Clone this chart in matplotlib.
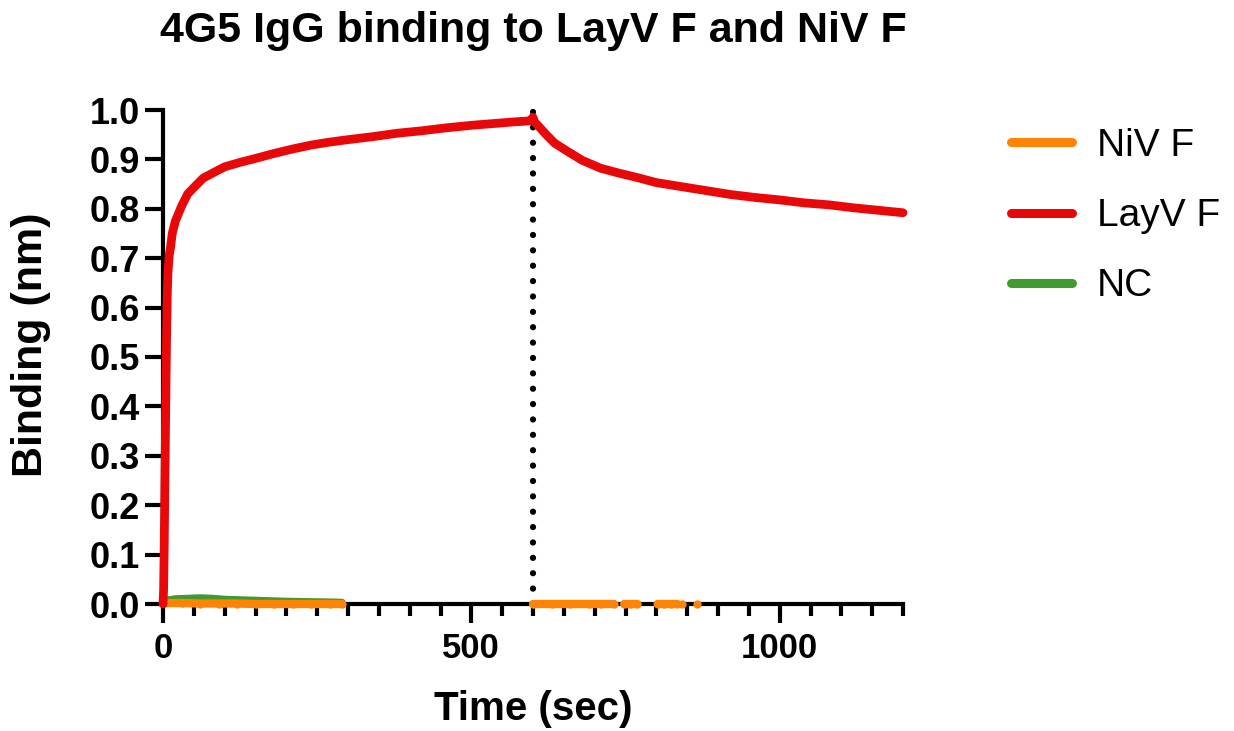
import numpy as np
import matplotlib
matplotlib.use('Agg')
import matplotlib.pyplot as plt
from matplotlib.lines import Line2D

plt.rcParams['font.family'] = ['Liberation Sans', 'DejaVu Sans']

# LayV F 曲线
layv_t = [0, 1, 2, 3, 4, 5, 6, 7, 8, 10, 12, 15, 20, 25, 30, 40, 50, 65, 80, 100,
          125, 150, 180, 210, 240, 270, 300, 340, 380, 420, 460, 500, 540, 570, 595,
          600, 603, 610, 620, 635, 655, 680, 710, 740, 770, 800, 840, 880, 920, 960,
          1000, 1040, 1080, 1120, 1160, 1200]
layv_y = [0.0, 0.03, 0.12, 0.24, 0.35, 0.46, 0.56, 0.63, 0.67, 0.705, 0.72, 0.75, 0.775,
          0.79, 0.805, 0.83, 0.843, 0.862, 0.872, 0.885, 0.894, 0.902, 0.912, 0.921,
          0.929, 0.935, 0.940, 0.946, 0.953, 0.958, 0.964, 0.969, 0.973, 0.976, 0.978,
          0.985, 0.975, 0.966, 0.952, 0.933, 0.917, 0.898, 0.882, 0.872, 0.863, 0.853,
          0.845, 0.837, 0.829, 0.823, 0.818, 0.812, 0.808, 0.802, 0.797, 0.792]

# NiV F：只有 >=0 的点可见
niv_t = [0, 30, 60, 90, 120, 150, 180, 210, 240, 270, 290, None,
         600, 630, 660, 690, 710, 731, None, 748, 758, 769, None, 802, 812, 823, 834, None,
         842, None, 866]
niv_y = [0.002, 0.002, 0.001, 0.001, 0.001, 0.0, 0.0, 0.0, 0.0, 0.0, 0.0, None,
         0.0, 0.0, 0.0, 0.0, 0.0, 0.0, None, 0.0, 0.0, 0.0, None, 0.0, 0.0, 0.0, 0.0, None,
         0.0, None, 0.0]

# NC
nc_t = [0, 20, 40, 60, 80, 100, 150, 200, 250, 290]
nc_y = [0.006, 0.010, 0.011, 0.012, 0.011, 0.009, 0.007, 0.005, 0.004, 0.003]

switch_t = 600

c_niv = '#FF8405'
c_layv = '#E8080A'
c_nc = '#3F9A30'

W, H = 1234, 731
fig = plt.figure(figsize=(W / 100, H / 100), dpi=100)
ax = fig.add_axes([163 / W, 1 - 604 / H, (903 - 163) / W, (604 - 110) / H])

nt = np.array([np.nan if v is None else v for v in niv_t], dtype=float)
ny = np.array([np.nan if v is None else v for v in niv_y], dtype=float)

ax.plot(nc_t, nc_y, color=c_nc, lw=5.5, solid_capstyle='round', clip_on=False, zorder=3)
ax.plot(nt, ny, color=c_niv, lw=6, solid_capstyle='round', marker='o', ms=6, mew=0,
        clip_on=False, zorder=4)
ax.plot(layv_t, layv_y, color=c_layv, lw=6.3, solid_capstyle='round', solid_joinstyle='round',
        clip_on=False, zorder=5)

ax.plot([switch_t, switch_t], [0, 1.0], color='black', lw=4.5,
        linestyle=(0, (0.01, 2.45)), dash_capstyle='round', clip_on=False, zorder=2)

ax.set_xlim(0, 1200)
ax.set_ylim(0, 1.0)
ax.set_xticks([0, 500, 1000])
ax.set_xticks(np.arange(0, 1201, 50), minor=True)
ax.set_yticks(np.arange(0, 1.01, 0.1))
ax.set_yticklabels(['%.1f' % v for v in np.arange(0, 1.01, 0.1)])

for s in ['top', 'right']:
    ax.spines[s].set_visible(False)
for s in ['left', 'bottom']:
    ax.spines[s].set_linewidth(3)
    ax.spines[s].set_capstyle('projecting')

ax.tick_params(axis='y', which='major', width=3, length=13, direction='out',
               labelsize=26, pad=3.5)
ax.tick_params(axis='x', which='major', width=3, length=14, direction='out',
               labelsize=25, pad=6)
ax.tick_params(axis='x', which='minor', width=3, length=8.5, direction='out')
for lab in ax.get_xticklabels() + ax.get_yticklabels():
    lab.set_fontweight('bold')

# 标题、坐标轴标签
fig.text(533 / W, 1 - 42 / H, '4G5 IgG binding to LayV F and NiV F', fontsize=31,
         fontweight='bold', ha='center', va='baseline')
fig.text(533 / W, 1 - 720 / H, 'Time (sec)', fontsize=29, fontweight='bold',
         ha='center', va='baseline')
fig.text(31 / W, 1 - 345 / H, 'Binding (nm)', fontsize=31, fontweight='bold',
         ha='center', va='center', rotation=90)

leg_h = [Line2D([], [], color=c, lw=6.5, solid_capstyle='round') for c in [c_niv, c_layv, c_nc]]
fig.legend(leg_h, ['NiV F', 'LayV F', 'NC'], loc='upper left',
           bbox_to_anchor=(1011 / W, 1 - 128 / H), bbox_transform=fig.transFigure,
           frameon=False, fontsize=28, handlelength=1.57, handletextpad=0.64,
           labelspacing=0.88, borderpad=0, borderaxespad=0)

fig.savefig('out.png', dpi=100)
